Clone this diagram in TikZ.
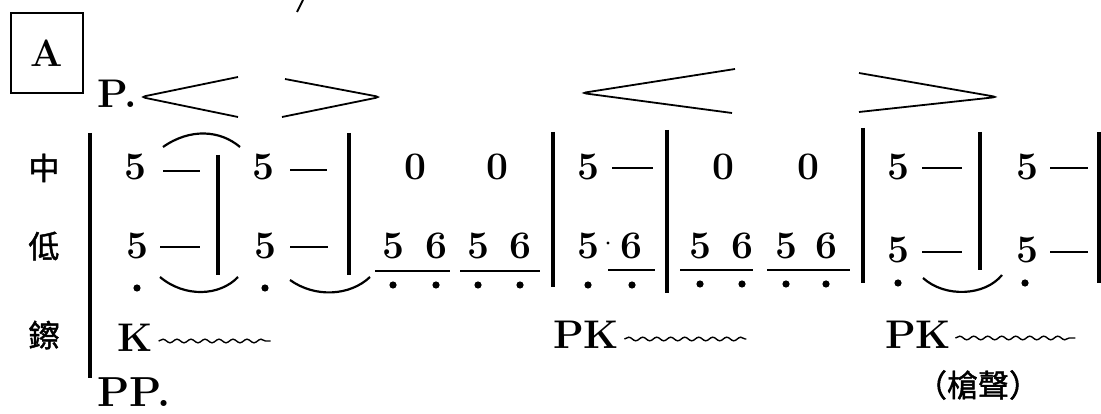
\documentclass[tikz,border=0pt]{standalone}
\usepackage{fontspec}
\usepackage{tikz}
\usetikzlibrary{decorations.pathmorphing}
\newfontfamily\cjk[FakeBold=1.5]{Noto Sans CJK TC}

\tikzset{
	num/.style={inner sep=0pt, anchor=base, font=\bfseries\fontsize{39}{41}\selectfont},
	word/.style={inner sep=0pt, anchor=base west, font=\bfseries\fontsize{40}{42}\selectfont},
	lbl/.style={inner sep=0pt, font=\cjk\fontsize{31}{33}\selectfont},
	bar/.style={line width=3.6pt},
	hold/.style={line width=2.6pt},
	slur/.style={line width=2.2pt},
	beam/.style={line width=1.6pt},
	hairpin/.style={line width=1.8pt, rounded corners=4pt},
	roll/.style={line width=1.4pt, decorate, decoration={snake, amplitude=1.8pt, segment length=14pt}},
}

\begin{document}
\begin{tikzpicture}[x=1pt, y=-1pt]
	\useasboundingbox (0,0) rectangle (1101,414);
	\draw[line width=1.8pt] (297,12) -- (303,0);
	\node[draw, line width=2.6pt, minimum width=72pt, minimum height=80pt, font=\bfseries\fontsize{38}{40}\selectfont] (secA) at (47,53) {A};
	\node[word] (p) at (97,108) {P.};
	\node[word, font=\bfseries\fontsize{42}{44}\selectfont] (pp) at (97,406) {PP.};
	% hairpins
	\draw[hairpin] (238,77) -- (141,97) -- (238,117);
	\draw[hairpin] (285,79) -- (380,97) -- (282,117);
	\draw[hairpin] (735,69) -- (582,93) -- (732,113);
	\draw[hairpin] (859,73) -- (997,97) -- (859,112);
	% row labels
	\node[lbl] (zhong) at (44,168) {中};
	\node[lbl] (di) at (44,246) {低};
	\node[lbl] (cha) at (44,335) {鑔};
	\draw[bar] (90,133) -- (90,378);
	% bar lines
	\draw[bar] (218,155) -- (218,275);
	\draw[bar] (349,133) -- (349,275);
	\draw[bar] (553,132) -- (553,287);
	\draw[bar] (667,130) -- (667,293);
	\draw[bar] (863,128) -- (863,283);
	\draw[bar] (980,132) -- (980,270);
	\draw[bar] (1099,132) -- (1099,283);
	% measure 1 and 2
	\node[num] (a1) at (135,180) {5};
	\node[num] (b1) at (137,259) {5};
	\draw[hold] (163,171) -- (200,171);
	\draw[hold] (160,247) -- (200,247);
	\fill (137,288) circle (3.6pt);
	\draw[slur] (163,147) .. controls (190,128) and (220,130) .. (240,147);
	\draw[slur] (160,277) .. controls (185,298) and (220,296) .. (238,277);
	\node[num] (a2) at (263,180) {5};
	\node[num] (b2) at (265,259) {5};
	\draw[hold] (290,170) -- (327,170);
	\draw[hold] (290,247) -- (328,247);
	\fill (265,288) circle (3.6pt);
	\draw[slur] (290,280) .. controls (315,298) and (350,296) .. (370,277);
	% measure 3
	\node[num] (a3) at (415,180) {0};
	\node[num] (c3) at (497,180) {0};
	\foreach \x/\d in {393/5, 436/6, 478/5, 520/6}
		{\node[num] (n\x) at (\x,259) {\d};
		\fill (\x,285) circle (3.6pt);}
	\draw[beam] (375,271) -- (450,271);
	\draw[beam] (460,271) -- (540,271);
	% measure 4
	\node[num] (a4) at (588,180) {5};
	\node[num] (b4) at (588,259) {5};
	\node[num] (d4) at (631,259) {6};
	\fill (608,243) circle (1.6pt);
	\draw[hold] (612,168) -- (653,168);
	\draw[beam] (608,270) -- (655,270);
	\fill (588,285) circle (3.6pt);
	\fill (632,285) circle (3.6pt);
	% measure 5
	\node[num] (a5) at (723,180) {0};
	\node[num] (c5) at (808,180) {0};
	\foreach \x/\d in {700/5, 742/6, 786/5, 826/6}
		{\node[num] (n\x) at (\x,259) {\d};
		\fill (\x,284) circle (3.6pt);}
	\draw[beam] (680,270) -- (753,270);
	\draw[beam] (767,270) -- (850,270);
	% measure 6 and 7
	\node[num] (a6) at (898,180) {5};
	\node[num] (b6) at (898,262) {5};
	\draw[hold] (922,168) -- (962,168);
	\draw[hold] (922,252) -- (962,252);
	\fill (898,283) circle (3.6pt);
	\draw[slur] (923,278) .. controls (945,298) and (985,296) .. (1002,275);
	\node[num] (a7) at (1027,180) {5};
	\node[num] (b7) at (1027,262) {5};
	\draw[hold] (1050,168) -- (1088,168);
	\draw[hold] (1050,252) -- (1088,252);
	\fill (1025,283) circle (3.6pt);
	% cymbal row
	\node[word] (k) at (117,351) {K};
	\node[word] (pk1) at (553,348) {PK};
	\node[word] (pk2) at (885,348) {PK};
	\draw[roll] (k.base east) ++(6,-10) -- ++(112,0);
	\draw[roll] (pk1.base east) ++(5,-9) -- ++(122,0);
	\draw[roll] (pk2.base east) ++(4,-10) -- ++(120,0);
	\node[lbl] (shot) at (978,385) {（槍聲）};
\end{tikzpicture}
\end{document}
